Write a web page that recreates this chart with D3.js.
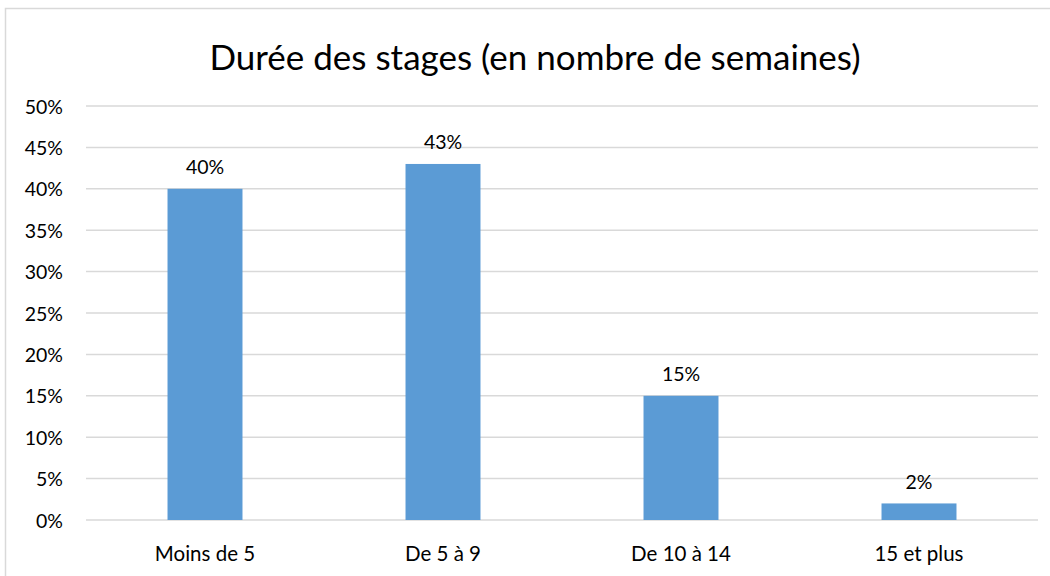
<!DOCTYPE html>
<html>
<head>
<meta charset="utf-8">
<script src="https://cdn.jsdelivr.net/npm/d3@7"></script>
<style>
    body { margin: 0; background: #fff; }
    text { font-family: Lato, "Open Sans", sans-serif; fill: #000; }
</style>
</head>
<body>
<svg id="chart_svg" width="1050" height="576"></svg>
<script>
// chart data
const categories = ["Moins de 5", "De 5 à 9", "De 10 à 14", "15 et plus"];
const values = [0.40, 0.43, 0.15, 0.02];
const valueLabels = ["40%", "43%", "15%", "2%"];
const yTicks = [0, 0.05, 0.10, 0.15, 0.20, 0.25, 0.30, 0.35, 0.40, 0.45, 0.50];
const titleText = "Durée des stages (en nombre de semaines)";

const svg = d3.select("#chart_svg");

// outer frame, clipped at right and bottom like the original
svg.append("rect")
    .attr("x", 5.5)
    .attr("y", 8.5)
    .attr("width", 1060)
    .attr("height", 600)
    .attr("fill", "#fff")
    .attr("stroke", "#d9d9d9")
    .attr("stroke-width", 1.5);

const plotLeft = 86, plotRight = 1038, plotTop = 106, plotBottom = 520;

let x = d3.scaleBand()
    .domain(categories)
    .range([plotLeft, plotRight])
    .paddingInner(0.685)
    .paddingOuter(0.3425);

let y = d3.scaleLinear()
    .domain([0, 0.5])
    .range([plotBottom, plotTop]);

// gridlines
svg.append("g")
    .selectAll("line")
    .data(yTicks)
    .enter().append("line")
    .attr("x1", plotLeft)
    .attr("x2", plotRight)
    .attr("y1", d => y(d))
    .attr("y2", d => y(d))
    .attr("stroke", "#d9d9d9")
    .attr("stroke-width", 1.5);

// y tick labels
svg.append("g")
    .selectAll("text")
    .data(yTicks)
    .enter().append("text")
    .attr("x", 63)
    .attr("y", d => y(d))
    .attr("text-anchor", "end")
    .attr("dominant-baseline", "central")
    .style("font-size", "19.5px")
    .text(d3.format(".0%"));

// bars
svg.append("g")
    .selectAll("rect")
    .data(values)
    .enter().append("rect")
    .attr("x", (d, i) => x(categories[i]))
    .attr("y", d => y(d))
    .attr("width", x.bandwidth())
    .attr("height", d => y(0) - y(d))
    .attr("fill", "#5b9bd5");

// value labels
svg.append("g")
    .selectAll("text")
    .data(values)
    .enter().append("text")
    .attr("x", (d, i) => x(categories[i]) + x.bandwidth() / 2)
    .attr("y", d => y(d) - 22)
    .attr("text-anchor", "middle")
    .attr("dominant-baseline", "central")
    .style("font-size", "19.5px")
    .text((d, i) => valueLabels[i]);

// x category labels
svg.append("g")
    .selectAll("text")
    .data(categories)
    .enter().append("text")
    .attr("x", d => x(d) + x.bandwidth() / 2)
    .attr("y", 553)
    .attr("text-anchor", "middle")
    .attr("dominant-baseline", "central")
    .style("font-size", "20.5px")
    .text(d => d);

// title
svg.append("text")
    .attr("x", 535)
    .attr("y", 56)
    .attr("text-anchor", "middle")
    .attr("dominant-baseline", "central")
    .style("font-size", "35px")
    .text(titleText);
</script>
</body>
</html>
